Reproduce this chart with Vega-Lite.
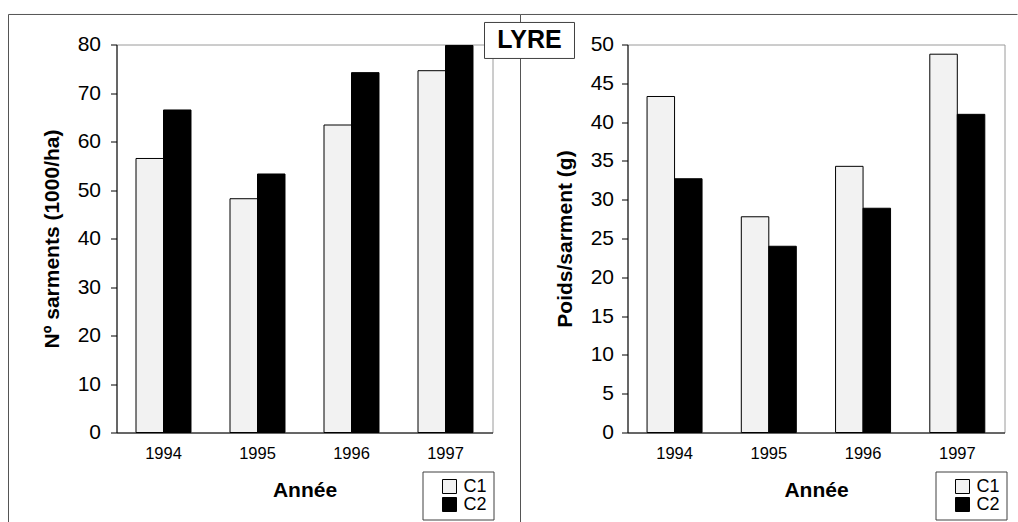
{
  "$schema": "https://vega.github.io/schema/vega-lite/v6.json",
  "background": "white",
  "padding": {"left": 7.5, "top": 12.5, "right": 0, "bottom": 0},
  "bounds": "flush",
  "spacing": 135,
  "resolve": {"scale": {"color": "independent"}, "legend": {"color": "independent"}},
  "config": {
    "font": "Liberation Sans",
    "view": {"stroke": "#9a9a9a", "strokeWidth": 1},
    "axis": {"labelColor": "black", "titleColor": "black", "domainColor": "black", "tickColor": "black", "grid": false, "labelOverlap": false},
    "legend": {"labelColor": "black"}
  },
  "datasets": {
    "nb": [
      {"annee": "1994", "serie": "C1", "valeur": 56.5},
      {"annee": "1994", "serie": "C2", "valeur": 66.5},
      {"annee": "1995", "serie": "C1", "valeur": 48.2},
      {"annee": "1995", "serie": "C2", "valeur": 53.3},
      {"annee": "1996", "serie": "C1", "valeur": 63.4},
      {"annee": "1996", "serie": "C2", "valeur": 74.2},
      {"annee": "1997", "serie": "C1", "valeur": 74.6},
      {"annee": "1997", "serie": "C2", "valeur": 79.8}
    ],
    "poids": [
      {"annee": "1994", "serie": "C1", "valeur": 43.3},
      {"annee": "1994", "serie": "C2", "valeur": 32.7},
      {"annee": "1995", "serie": "C1", "valeur": 27.8},
      {"annee": "1995", "serie": "C2", "valeur": 24.0},
      {"annee": "1996", "serie": "C1", "valeur": 34.3},
      {"annee": "1996", "serie": "C2", "valeur": 28.9},
      {"annee": "1997", "serie": "C1", "valeur": 48.75},
      {"annee": "1997", "serie": "C2", "valeur": 41.0}
    ],
    "titre": [{"label": "LYRE"}],
    "un": [{"k": 1}]
  },
  "hconcat": [
    {
      "width": 376,
      "height": 388,
      "resolve": {"scale": {"x": "independent"}},
      "layer": [
        {
          "data": {"name": "nb"},
          "mark": {"type": "bar", "stroke": "black", "strokeWidth": 1},
          "encoding": {
            "x": {"field": "annee", "type": "nominal", "scale": {"paddingInner": 0.415, "paddingOuter": 0.2075},
                  "axis": {"title": "Année", "labelAngle": 0, "ticks": false, "tickSize": 0, "labelFontSize": 16.5, "labelPadding": 13, "titleFontSize": 21, "titleFontWeight": "bold", "titlePadding": 17}},
            "xOffset": {"field": "serie", "type": "nominal", "scale": {"paddingInner": 0, "paddingOuter": 0}},
            "y": {"field": "valeur", "type": "quantitative", "scale": {"domain": [0, 80], "nice": false},
                  "axis": {"title": "Nº sarments (1000/ha)", "values": [0, 10, 20, 30, 40, 50, 60, 70, 80], "tickSize": 6, "labelFontSize": 21, "labelPadding": 10, "titleFontSize": 21, "titleFontWeight": "bold", "titlePadding": 15}},
            "color": {"field": "serie", "type": "nominal", "scale": {"domain": ["C1", "C2"], "range": ["#f2f2f2", "#000000"]},
                      "legend": {"title": null, "orient": "none", "legendX": 306, "legendY": 427, "symbolType": "square", "symbolSize": 196, "symbolStrokeColor": "black", "symbolStrokeWidth": 1, "symbolOffset": 12, "labelFontSize": 18, "labelOffset": 5, "rowPadding": 0, "padding": 6, "strokeColor": "#404040", "fillColor": "white"}}
          }
        },
        {
          "data": {"name": "un"},
          "mark": {"type": "rule", "color": "#555555", "strokeWidth": 1},
          "encoding": {
            "x": {"datum": -0.2872, "type": "quantitative", "scale": {"domain": [0, 1]}, "axis": null},
            "x2": {"datum": 1.0745},
            "y": {"datum": 86.19, "type": "quantitative", "scale": {"domain": [0, 80], "nice": false},
                  "axis": {"title": "Nº sarments (1000/ha)", "values": [0, 10, 20, 30, 40, 50, 60, 70, 80], "tickSize": 6, "labelFontSize": 21, "labelPadding": 10, "titleFontSize": 21, "titleFontWeight": "bold", "titlePadding": 15}}
          }
        },
        {
          "data": {"name": "un"},
          "mark": {"type": "rule", "color": "#555555", "strokeWidth": 1},
          "encoding": {
            "x": {"datum": -0.2872, "type": "quantitative", "scale": {"domain": [0, 1]}, "axis": null},
            "y": {"datum": 86.19, "type": "quantitative", "scale": {"domain": [0, 80], "nice": false},
                  "axis": {"title": "Nº sarments (1000/ha)", "values": [0, 10, 20, 30, 40, 50, 60, 70, 80], "tickSize": 6, "labelFontSize": 21, "labelPadding": 10, "titleFontSize": 21, "titleFontWeight": "bold", "titlePadding": 15}},
            "y2": {"datum": -18.56}
          }
        },
        {
          "data": {"name": "un"},
          "mark": {"type": "rule", "color": "#555555", "strokeWidth": 1},
          "encoding": {
            "x": {"datum": 1.0745, "type": "quantitative", "scale": {"domain": [0, 1]}, "axis": null},
            "y": {"datum": 86.19, "type": "quantitative", "scale": {"domain": [0, 80], "nice": false},
                  "axis": {"title": "Nº sarments (1000/ha)", "values": [0, 10, 20, 30, 40, 50, 60, 70, 80], "tickSize": 6, "labelFontSize": 21, "labelPadding": 10, "titleFontSize": 21, "titleFontWeight": "bold", "titlePadding": 15}},
            "y2": {"datum": -18.56}
          }
        }
      ]
    },
    {
      "width": 377,
      "height": 388,
      "resolve": {"scale": {"x": "independent"}},
      "layer": [
        {
          "data": {"name": "poids"},
          "mark": {"type": "bar", "stroke": "black", "strokeWidth": 1},
          "encoding": {
            "x": {"field": "annee", "type": "nominal", "scale": {"paddingInner": 0.415, "paddingOuter": 0.2075},
                  "axis": {"title": "Année", "labelAngle": 0, "ticks": false, "tickSize": 0, "labelFontSize": 16.5, "labelPadding": 13, "titleFontSize": 21, "titleFontWeight": "bold", "titlePadding": 17}},
            "xOffset": {"field": "serie", "type": "nominal", "scale": {"paddingInner": 0, "paddingOuter": 0}},
            "y": {"field": "valeur", "type": "quantitative", "scale": {"domain": [0, 50], "nice": false},
                  "axis": {"title": "Poids/sarment (g)", "values": [0, 5, 10, 15, 20, 25, 30, 35, 40, 45, 50], "tickSize": 6, "labelFontSize": 21, "labelPadding": 8, "titleFontSize": 21, "titleFontWeight": "bold", "titlePadding": 15}},
            "color": {"field": "serie", "type": "nominal", "scale": {"domain": ["C1", "C2"], "range": ["#f2f2f2", "#000000"]},
                      "legend": {"title": null, "orient": "none", "legendX": 308, "legendY": 427, "symbolType": "square", "symbolSize": 196, "symbolStrokeColor": "black", "symbolStrokeWidth": 1, "symbolOffset": 12, "labelFontSize": 18, "labelOffset": 5, "rowPadding": 0, "padding": 6, "strokeColor": "#404040", "fillColor": "white"}}
          }
        },
        {
          "data": {"name": "un"},
          "mark": {"type": "rule", "color": "#555555", "strokeWidth": 1},
          "encoding": {
            "x": {"datum": -0.2838, "type": "quantitative", "scale": {"domain": [0, 1]}, "axis": null},
            "x2": {"datum": 1.0345},
            "y": {"datum": 53.87, "type": "quantitative", "scale": {"domain": [0, 50], "nice": false},
                  "axis": {"title": "Poids/sarment (g)", "values": [0, 5, 10, 15, 20, 25, 30, 35, 40, 45, 50], "tickSize": 6, "labelFontSize": 21, "labelPadding": 8, "titleFontSize": 21, "titleFontWeight": "bold", "titlePadding": 15}}
          }
        },
        {
          "data": {"name": "un"},
          "mark": {"type": "rect", "fill": "white", "stroke": "#404040", "strokeWidth": 1},
          "encoding": {
            "x": {"datum": -0.3793, "type": "quantitative", "scale": {"domain": [0, 1]}, "axis": null},
            "x2": {"datum": -0.1406},
            "y": {"datum": 52.84, "type": "quantitative", "scale": {"domain": [0, 50], "nice": false},
                  "axis": {"title": "Poids/sarment (g)", "values": [0, 5, 10, 15, 20, 25, 30, 35, 40, 45, 50], "tickSize": 6, "labelFontSize": 21, "labelPadding": 8, "titleFontSize": 21, "titleFontWeight": "bold", "titlePadding": 15}},
            "y2": {"datum": 48.2}
          }
        },
        {
          "data": {"name": "titre"},
          "mark": {"type": "text", "fontSize": 25, "fontWeight": "bold", "align": "center", "baseline": "middle", "color": "black"},
          "encoding": {
            "text": {"field": "label"},
            "x": {"datum": -0.2599, "type": "quantitative", "scale": {"domain": [0, 1]}, "axis": null},
            "y": {"datum": 50.52, "type": "quantitative", "scale": {"domain": [0, 50], "nice": false},
                  "axis": {"title": "Poids/sarment (g)", "values": [0, 5, 10, 15, 20, 25, 30, 35, 40, 45, 50], "tickSize": 6, "labelFontSize": 21, "labelPadding": 8, "titleFontSize": 21, "titleFontWeight": "bold", "titlePadding": 15}}
          }
        }
      ]
    }
  ]
}
